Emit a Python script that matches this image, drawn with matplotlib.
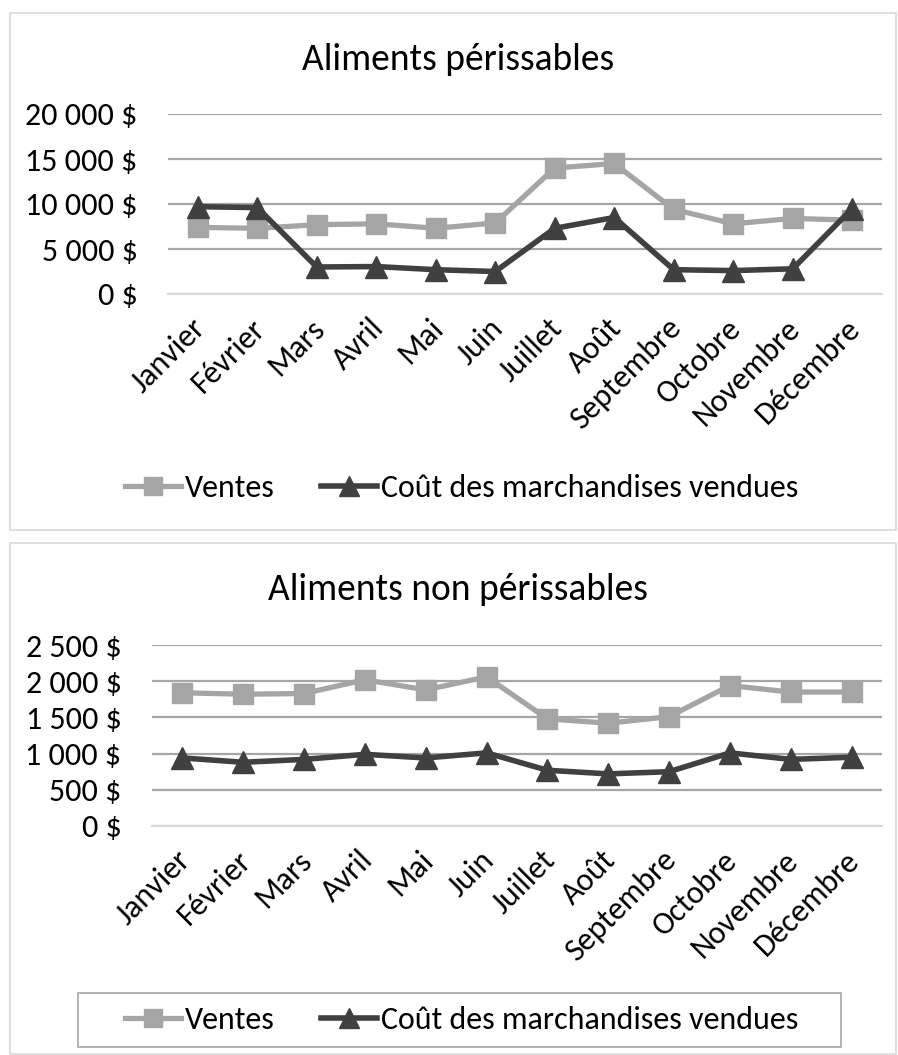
import matplotlib.pyplot as plt
from matplotlib.patches import Rectangle
from matplotlib.ticker import FuncFormatter
from matplotlib.transforms import ScaledTranslation

plt.rcParams['font.family'] = ['Carlito', 'Liberation Sans Narrow', 'DejaVu Sans']

mois = ['Janvier', 'Février', 'Mars', 'Avril', 'Mai', 'Juin', 'Juillet',
        'Août', 'Septembre', 'Octobre', 'Novembre', 'Décembre']

# Aliments périssables
ventes_per = [7400, 7300, 7700, 7800, 7300, 7900, 14000, 14500, 9400, 7800, 8400, 8200]
cout_per = [9700, 9600, 3000, 3050, 2700, 2500, 7300, 8500, 2700, 2600, 2800, 9500]

# Aliments non périssables
ventes_non = [1840, 1820, 1830, 2020, 1880, 2060, 1480, 1420, 1510, 1940, 1850, 1850]
cout_non = [940, 880, 920, 990, 940, 1010, 770, 720, 750, 1010, 920, 950]

GRIS_CLAIR = '#a5a5a5'
GRIS_FONCE = '#404040'
W, H = 898, 1055


def fmt_dollars(v, pos):
    return '{:,.0f} $'.format(v).replace(',', ' ')


def dessiner(ax, ventes, cout, ymax, pas, titre, titre_y, fig):
    x = range(len(mois))
    ax.plot(x, ventes, color=GRIS_CLAIR, lw=3.8, marker='s', ms=14, label='Ventes', zorder=3)
    ax.plot(x, cout, color=GRIS_FONCE, lw=4, marker='^', ms=16,
            label='Coût des marchandises vendues', zorder=4)
    ax.set_xlim(-0.5, len(mois) - 0.5)
    ax.set_ylim(0, ymax)
    ax.set_yticks(range(0, ymax + 1, pas))
    ax.yaxis.set_major_formatter(FuncFormatter(fmt_dollars))
    ax.grid(axis='y', color='#a6a6a6', lw=1.6, zorder=0)
    for s in ['top', 'right', 'left']:
        ax.spines[s].set_visible(False)
    ax.spines['bottom'].set_color('#d9d9d9')
    ax.spines['bottom'].set_linewidth(1.5)
    ax.tick_params(length=0, labelsize=23)
    ax.tick_params(axis='y', pad=22)
    ax.tick_params(axis='x', pad=14)
    ax.set_xticks(list(x))
    ax.set_xticklabels(mois, rotation=45, ha='right', va='top', rotation_mode='anchor')
    # petit décalage vers la gauche des mois
    decal = ScaledTranslation(-7 / 100, 0, fig.dpi_scale_trans)
    for lab in ax.get_xticklabels():
        lab.set_transform(lab.get_transform() + decal)
    fig.text(0.51, titre_y, titre, ha='center', va='center', fontsize=27)
    return ax.get_legend_handles_labels()


def legende(fig, h, l, yc):
    fig.legend(h, l, loc='center', bbox_to_anchor=(462 / W, 1 - yc / H), ncol=2,
               frameon=False, fontsize=23, handlelength=1.75, handletextpad=0.12,
               columnspacing=1.45, markerscale=0.9)


fig = plt.figure(figsize=(W / 100, H / 100), dpi=100)

# cadres des graphiques
fig.patches.append(Rectangle((10 / W, 1 - 530 / H), 886 / W, 517 / H,
                             transform=fig.transFigure, fill=False, ec='#d9d9d9', lw=1.2))
fig.patches.append(Rectangle((10 / W, 1 - 1054 / H), 886 / W, 511 / H,
                             transform=fig.transFigure, fill=False, ec='#d9d9d9', lw=1.2))

ax1 = fig.add_axes([168 / W, 1 - 294 / H, 714 / W, 180 / H])
h, l = dessiner(ax1, ventes_per, cout_per, 20000, 5000, 'Aliments périssables',
                1 - 60 / H, fig)
legende(fig, h, l, 488)

ax2 = fig.add_axes([152 / W, 1 - 826 / H, 730 / W, 181 / H])
h, l = dessiner(ax2, ventes_non, cout_non, 2500, 500, 'Aliments non périssables',
                1 - 590 / H, fig)
legende(fig, h, l, 1020)
# cadre de la légende du bas
fig.patches.append(Rectangle((78 / W, 1 - 1047 / H), 763 / W, 54 / H,
                             transform=fig.transFigure, fill=False, ec='#a6a6a6', lw=1.2))

plt.savefig('out.png', dpi=100)
